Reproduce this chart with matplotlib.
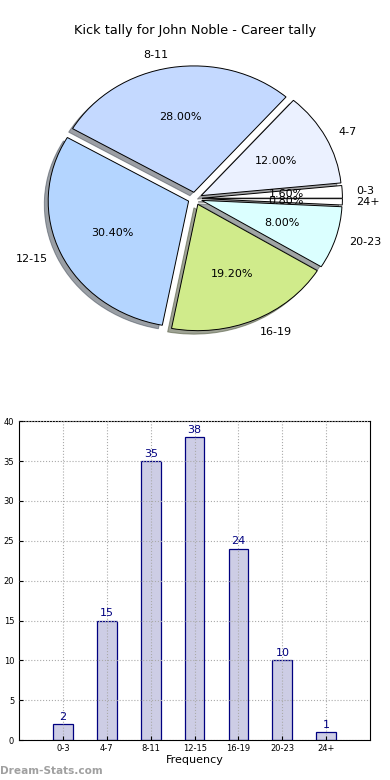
import matplotlib.pyplot as plt

labels = ['0-3', '4-7', '8-11', '12-15', '16-19', '20-23', '24+']
counts = [2, 15, 35, 38, 24, 10, 1]
pie_colors = ['#ffffff', '#ebf1ff', '#c4d9ff', '#b4d5ff', '#d0eb8b', '#dbffff', '#ffffff']

fig = plt.figure(figsize=(3.9, 7.8), dpi=100)

# pie on top (not equal aspect, as in the original)
ax1 = fig.add_axes([0.05, 0.543, 0.9, 0.405])
wedges, texts, autotexts = ax1.pie(counts, labels=labels, colors=pie_colors,
                                   explode=[0.05] * len(counts), shadow=True,
                                   autopct='%.2f%%',
                                   wedgeprops={'edgecolor': 'black', 'linewidth': 0.7},
                                   textprops={'fontsize': 8})
ax1.set_aspect('auto')
fig.text(0.5, 0.9615, 'Kick tally for John Noble - Career tally', ha='center', va='center', fontsize=9.3)

# bar chart below
ax2 = fig.add_axes([0.049, 0.051, 0.9, 0.409])
x = list(range(len(labels)))
bars = ax2.bar(x, counts, width=0.45, color='#cdcde5', edgecolor='navy', linewidth=0.9)
for xi, c in zip(x, counts):
    ax2.text(xi, c + 0.3, str(c), ha='center', va='bottom', color='navy', fontsize=8)
ax2.set_xlim(-1, 7)
ax2.set_ylim(0, 40)
ax2.set_xticks(x)
ax2.set_xticklabels(labels, fontsize=6)
ax2.set_yticks(range(0, 41, 5))
ax2.tick_params(axis='y', labelsize=6, direction='in', length=3)
ax2.tick_params(axis='x', direction='in', length=3, pad=3)
ax2.set_xlabel('Frequency', fontsize=8, labelpad=1)
ax2.grid(True, linestyle=':', color='#aaaaaa', linewidth=0.8)
ax2.set_axisbelow(False)

fig.text(0.0, 0.012, 'Dream-Stats.com', color='#a0a0a0', fontsize=7.6, fontweight='bold', ha='left', va='center')

fig.savefig('out.png', dpi=100)
